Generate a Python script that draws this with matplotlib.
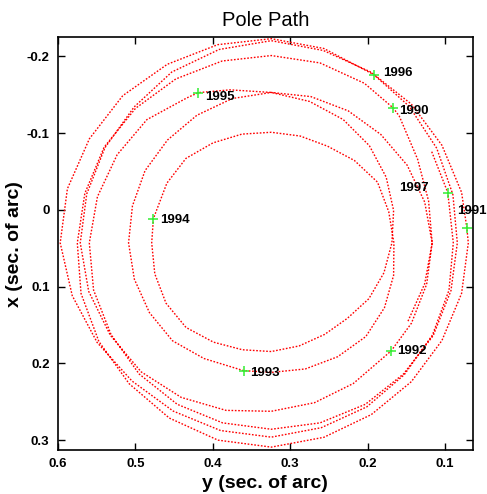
import matplotlib
matplotlib.use("Agg")
import matplotlib.pyplot as plt

plt.rcParams['font.family'] = ['Liberation Sans', 'DejaVu Sans']

# pole path (arc seconds)
pole_y = [0.1478, 0.1262, 0.1166, 0.1212, 0.1354, 0.1591, 0.1670, 0.2042, 0.2615, 0.3244,
          0.3879, 0.4478, 0.4998, 0.5404, 0.5653, 0.5750, 0.5702, 0.5471, 0.5080, 0.4562,
          0.3933, 0.3244, 0.2565, 0.1952, 0.1435, 0.1040, 0.0786, 0.0699, 0.0718, 0.0786,
          0.1040, 0.1435, 0.1958, 0.2572, 0.3244, 0.3919, 0.4530, 0.5016, 0.5393, 0.5628,
          0.5712, 0.5603, 0.5325, 0.4925, 0.4407, 0.3829, 0.3244, 0.2686, 0.2185, 0.1696,
          0.1433, 0.1237, 0.1166, 0.1262, 0.1489, 0.1830, 0.2250, 0.2733, 0.3244, 0.3748,
          0.4205, 0.4585, 0.4875, 0.5038, 0.5088, 0.5013, 0.4818, 0.4520, 0.4114, 0.3603,
          0.3244, 0.2804, 0.2387, 0.2023, 0.1782, 0.1664, 0.1660, 0.1727, 0.1872, 0.2170,
          0.2516, 0.2871, 0.3244, 0.3624, 0.3997, 0.4346, 0.4593, 0.4767, 0.4789, 0.4749,
          0.4604, 0.4346, 0.3991, 0.3617, 0.3244, 0.2884, 0.2555, 0.2261, 0.1984, 0.1789,
          0.1686, 0.1664, 0.1760, 0.1977, 0.2315, 0.2750, 0.3244, 0.3778, 0.4185, 0.4335,
          0.4851, 0.5235, 0.5490, 0.5595, 0.5540, 0.5314, 0.4952, 0.4459, 0.3873, 0.3244,
          0.2615, 0.2029, 0.1536, 0.1152, 0.0923, 0.0841, 0.0898, 0.1107, 0.1463, 0.1921,
          0.2565, 0.3244, 0.3936, 0.4588, 0.5163, 0.5594, 0.5878, 0.5971, 0.5815, 0.5493,
          0.5044, 0.4510, 0.3899, 0.3244, 0.2599, 0.2010, 0.1526, 0.1163, 0.0948, 0.0893,
          0.0964, 0.1174]
pole_x = [0.1450, 0.0961, 0.0430, -0.0115, -0.0661, -0.1223, -0.1330, -0.1651, -0.1916, -0.2012,
          -0.1941, -0.1707, -0.1324, -0.0817, -0.0215, 0.0430, 0.1089, 0.1716, 0.2266, 0.2713,
          0.3001, 0.3092, 0.2964, 0.2668, 0.2239, 0.1703, 0.1089, 0.0430, 0.0235, -0.0229,
          -0.0843, -0.1379, -0.1797, -0.2078, -0.2206, -0.2091, -0.1797, -0.1342, -0.0811, -0.0209,
          0.0430, 0.1062, 0.1632, 0.2111, 0.2444, 0.2613, 0.2625, 0.2513, 0.2263, 0.1838,
          0.1476, 0.0968, 0.0430, -0.0101, -0.0583, -0.0984, -0.1291, -0.1477, -0.1531, -0.1452,
          -0.1234, -0.0911, -0.0512, -0.0051, 0.0430, 0.0904, 0.1339, 0.1706, 0.1937, 0.2095,
          0.2118, 0.2073, 0.1914, 0.1651, 0.1274, 0.0853, 0.0430, 0.0023, -0.0362, -0.0644,
          -0.0830, -0.0963, -0.1012, -0.0988, -0.0874, -0.0672, -0.0349, 0.0113, 0.0430, 0.0833,
          0.1216, 0.1532, 0.1724, 0.1823, 0.1846, 0.1773, 0.1623, 0.1413, 0.1158, 0.0820,
          0.0430, 0.0007, -0.0427, -0.0837, -0.1178, -0.1414, -0.1531, -0.1565, -0.1529, -0.1460,
          -0.1177, -0.0720, -0.0172, 0.0430, 0.1045, 0.1625, 0.2138, 0.2534, 0.2776, 0.2859,
          0.2776, 0.2534, 0.2138, 0.1638, 0.1052, 0.0430, -0.0199, -0.0804, -0.1351, -0.1764,
          -0.2104, -0.2232, -0.2154, -0.1898, -0.1489, -0.0927, -0.0276, 0.0430, 0.1119, 0.1729,
          0.2230, 0.2623, 0.2876, 0.2962, 0.2839, 0.2567, 0.2148, 0.1632, 0.1045, 0.0430,
          -0.0226, -0.0765]

# start of each year
years = ['1990', '1991', '1992', '1993', '1994', '1995', '1996', '1997']
year_y = [0.1670, 0.0718, 0.1696, 0.3603, 0.4767, 0.4185, 0.1921, 0.0964]
year_x = [-0.1330, 0.0235, 0.1838, 0.2095, 0.0113, -0.1529, -0.1764, -0.0226]

# label offsets in points, and alignment
offsets = [(4, -2), (14, 12), (4, 0), (5, -2), (5, -1), (5, -3), (7, 1), (-14, 3)]
aligns = ['left', 'right', 'left', 'left', 'left', 'left', 'left', 'right']

fig = plt.figure(figsize=(4.87, 4.94), dpi=100)
ax = fig.add_axes([0.119, 0.089, 0.852, 0.8355])

ax.plot(pole_y, pole_x, color='red', lw=1.0, ls=(0, (1.2, 1.2)))
ax.plot(year_y, year_x, '+', color='#33ee33', ms=6.5, mew=1.1)
for yr, yy, xx, off, ha in zip(years, year_y, year_x, offsets, aligns):
    ax.annotate(yr, (yy, xx), xytext=off, textcoords='offset points',
                fontsize=9.5, fontweight='bold', va='center', ha=ha,
                annotation_clip=False)

ax.set_xlim(0.6, 0.064)
ax.set_ylim(0.313, -0.225)
ax.set_xticks([0.6, 0.5, 0.4, 0.3, 0.2, 0.1])
ax.set_xticklabels(['0.6', '0.5', '0.4', '0.3', '0.2', '0.1'])
ax.set_yticks([-0.2, -0.1, 0, 0.1, 0.2, 0.3])
ax.set_yticklabels(['-0.2', '-0.1', '0', '0.1', '0.2', '0.3'])
ax.tick_params(direction='in', top=True, right=True, length=5, width=1,
               labelsize=9.5, pad=6)
for lab in ax.get_xticklabels() + ax.get_yticklabels():
    lab.set_fontweight('bold')
for sp in ax.spines.values():
    sp.set_linewidth(1.2)

ax.set_title("Pole Path", fontsize=14.5, pad=8)
ax.set_xlabel("y (sec. of arc)", fontsize=14, fontweight='bold', labelpad=3)
ax.set_ylabel("x (sec. of arc)", fontsize=14, fontweight='bold', labelpad=3)

fig.savefig("out.png", dpi=100)
